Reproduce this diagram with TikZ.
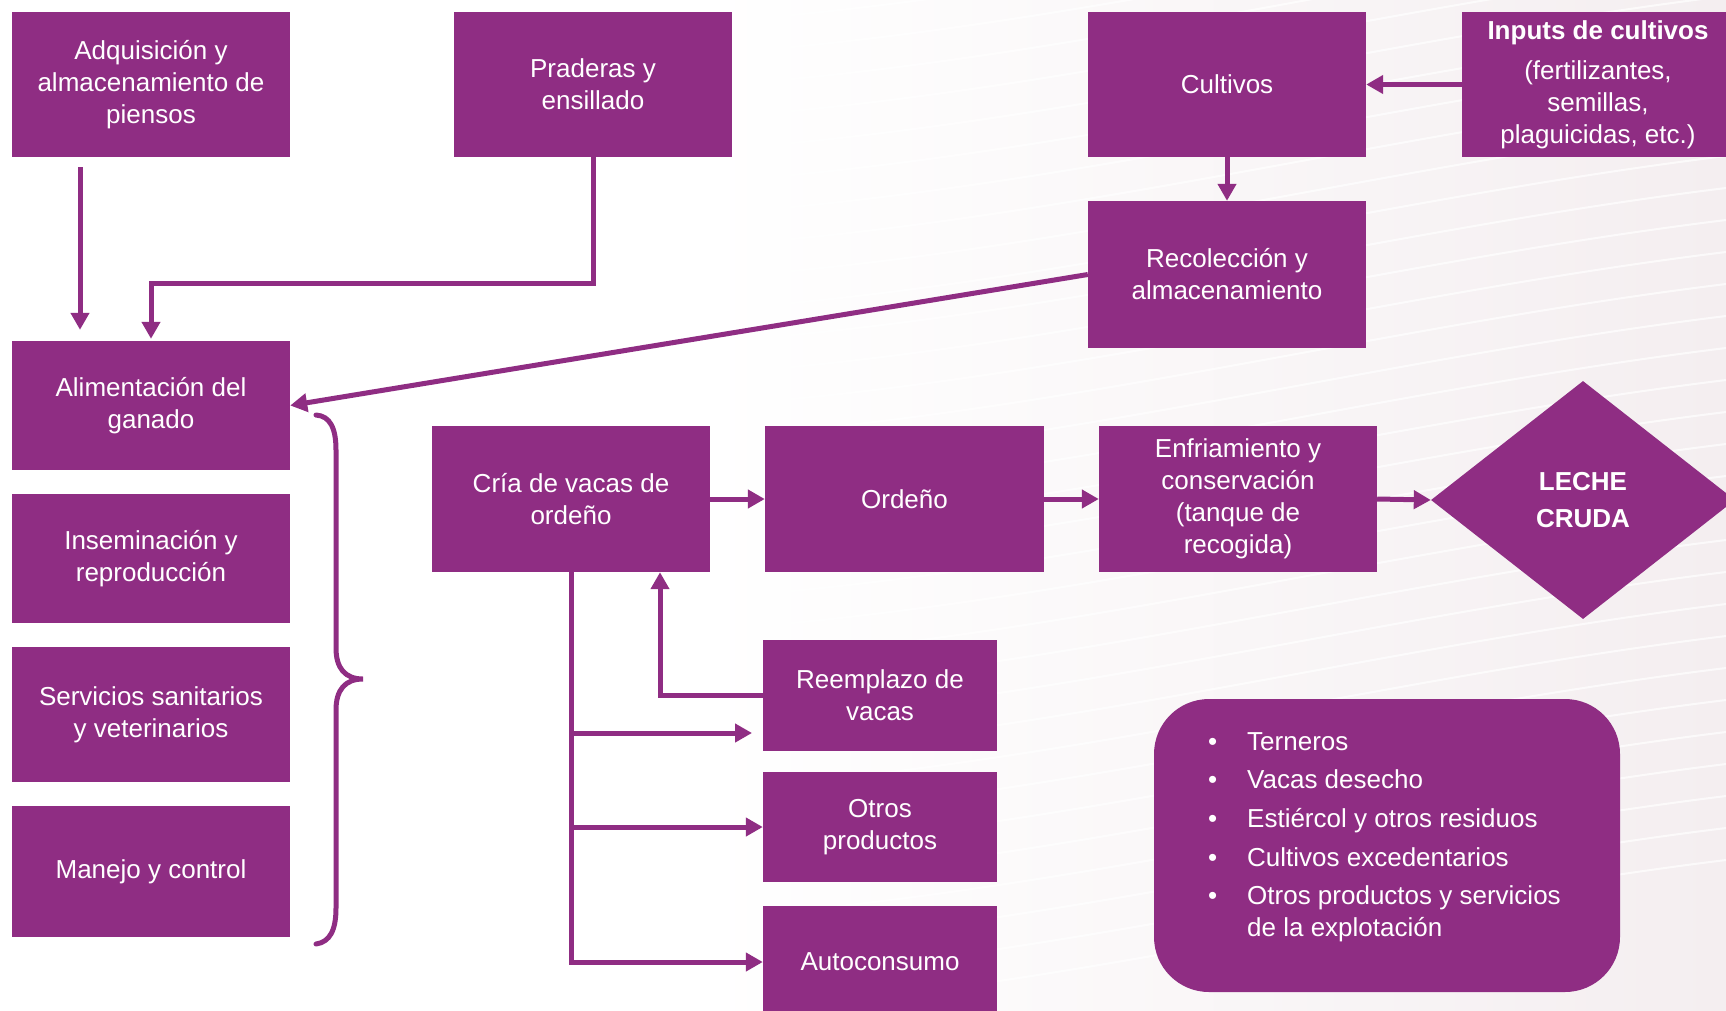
\documentclass[tikz,border=0pt]{standalone}
\usepackage{fontspec}
\setmainfont{Liberation Sans}
\usetikzlibrary{arrows.meta,shapes.geometric,calc}
\definecolor{fpurple}{RGB}{143,45,131}
\definecolor{bgtint}{RGB}{244,238,240}
\begin{document}
\begin{tikzpicture}[x=1pt,y=-1pt,
  box/.style={fill=fpurple, draw=none, text=white, align=center, inner sep=0pt,
    minimum width=278pt, font=\fontsize{26}{32}\selectfont},
  lst/.style={text=white, inner sep=0pt, anchor=base west, font=\fontsize{26}{32}\selectfont},
  conn/.style={draw=fpurple, line width=5pt},
  arr/.style={conn, -{Triangle[length=17pt,width=18pt]}}]
\useasboundingbox (0,0) rectangle (1726,1010);
\clip (0,0) rectangle (1726,1010);
\fill[white] (0,0) rectangle (1726,1010);
\shade[left color=white, right color=bgtint] (700,0) rectangle (1726,1010);
\foreach \k in {0,...,34} {
  \draw[white, line width=2pt, opacity=0.7] (760,{1010-\k*32}) .. controls (1100,{980-\k*32}) and (1400,{900-\k*32}) .. (1726,{860-\k*32});
}

% top row
\node[box, minimum height=145pt] (adq) at (151,84.5) {Adquisición y\\almacenamiento de\\piensos};
\node[box, minimum height=145pt] (prad) at (593,84.5) {Praderas y\\ensillado};
\node[box, minimum height=145pt] (cult) at (1227,84.5) {Cultivos};
\node[box, minimum height=145pt, minimum width=272pt] (inp) at (1598,84.5) {\textbf{Inputs de cultivos}\\[8pt](fertilizantes,\\semillas,\\plaguicidas, etc.)};
\node[box, minimum height=147pt] (rec) at (1227,274.5) {Recolección y\\almacenamiento};

% left column
\node[box, minimum height=129pt] (alim) at (151,405.5) {Alimentación del\\ganado};
\node[box, minimum height=129pt] (ins) at (151,558.5) {Inseminación y\\reproducción};
\node[box, minimum height=135pt] (serv) at (151,714.5) {Servicios sanitarios\\y veterinarios};
\node[box, minimum height=131pt] (man) at (151,871.5) {Manejo y control};

% middle row
\node[box, minimum height=146pt] (cria) at (571,499) {Cría de vacas de\\ordeño};
\node[box, minimum height=146pt, minimum width=279pt] (ord) at (904.5,499) {Ordeño};
\node[box, minimum height=146pt] (enf) at (1238,499) {Enfriamiento y\\conservación\\(tanque de\\recogida)};
\node[box, shape=diamond, minimum width=304pt, minimum height=238pt, font=\fontsize{26}{37}\selectfont\bfseries] (leche) at (1583,500) {LECHE\\CRUDA};

% outputs
\node[box, minimum width=234pt, minimum height=111pt] (reem) at (880,695.5) {Reemplazo de\\vacas};
\node[box, minimum width=234pt, minimum height=110pt] (otros) at (880,827) {Otros\\productos};
\node[box, minimum width=234pt, minimum height=112pt] (auto) at (880,962) {Autoconsumo};

% by-products list
\node[fill=fpurple, rounded corners=55pt, minimum width=466pt, minimum height=293pt, inner sep=0pt] (prod) at (1387,845.5) {};
\node[lst] (b1) at (1208,750) {\makebox[39pt][l]{•}Terneros};
\node[lst] (b2) at (1208,788) {\makebox[39pt][l]{•}Vacas desecho};
\node[lst] (b3) at (1208,827) {\makebox[39pt][l]{•}Estiércol y otros residuos};
\node[lst] (b4) at (1208,866) {\makebox[39pt][l]{•}Cultivos excedentarios};
\node[lst] (b5) at (1208,904) {\makebox[39pt][l]{•}Otros productos y servicios};
\node[lst] (b6) at (1247,936) {de la explotación};

% connectors
\draw[arr] ([xshift=-71pt,yshift=-10pt]adq.south) -- ([xshift=-71pt,yshift=11pt]alim.north);
\draw[arr] (prad.south) -- ++(0,126) -| ([yshift=2pt]alim.north);
\draw[arr] (rec.west) -- (alim.east);
\draw[arr] (inp.west) -- (cult.east);
\draw[arr] (cult.south) -- (rec.north);
\draw[arr] (cria.east) -- (ord.west);
\draw[arr] (ord.east) -- (enf.west);
\draw[arr] (enf.east) -- (leche.west);
\draw[arr] (cria.south) |- (auto.west);
\draw[arr] (cria.south |- otros.west) -- (otros.west);
\coordinate (rtip) at (752,733);
\draw[arr] (cria.south |- rtip) -- (rtip);
\draw[arr] (reem.west) -| ([xshift=89pt]cria.south);

% brace
\draw[conn, line cap=round] (316,415) .. controls (330,416) and (336,428) .. (336,450) -- (336,648)
  .. controls (336,668) and (345,679) .. (363,679)
  .. controls (345,679) and (336,690) .. (336,710) -- (336,908)
  .. controls (336,930) and (330,942) .. (316,944);
\end{tikzpicture}
\end{document}
